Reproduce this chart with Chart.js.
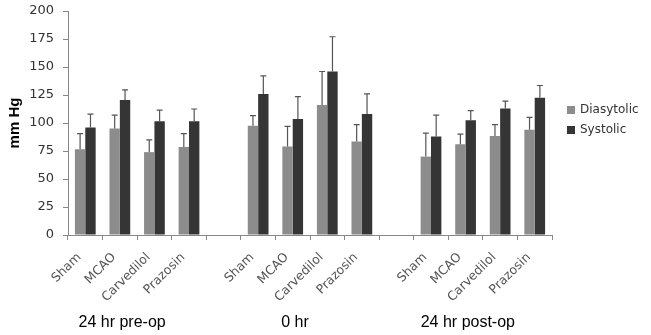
<!DOCTYPE html>
<html>
<head>
<meta charset="utf-8">
<script src="https://cdn.jsdelivr.net/npm/chart.js@4"></script>
<style>
  html, body { margin: 0; padding: 0; background: #ffffff; }
  #wrap { width: 651px; height: 335px; }
</style>
</head>
<body>
<div id="wrap"><canvas id="c" width="651" height="335"></canvas></div>
<script>
const categories = ['Sham','MCAO','Carvedilol','Prazosin','', 'Sham','MCAO','Carvedilol','Prazosin','', 'Sham','MCAO','Carvedilol','Prazosin'];
const groupLabels = ['24 hr pre-op', '0 hr', '24 hr post-op'];
const groupRanges = [[0, 3], [5, 8], [10, 13]];
const seriesNames = ['Diasytolic', 'Systolic'];
const diastolic    = [76.5, 95, 74, 78.5, null, 97.5, 79, 116, 83.5, null, 70, 81, 88.5, 94];
const diastolicErr = [14, 12, 11, 12, null, 9, 18, 30, 15, null, 21, 9, 10, 11];
const systolic     = [96, 120.5, 101.5, 101.5, null, 126, 103.5, 146, 108, null, 88, 102.5, 113, 122.5];
const systolicErr  = [12, 9, 10, 11, null, 16, 20, 31, 18, null, 19, 8.5, 6.5, 11];
const yTicks = [0, 25, 50, 75, 100, 125, 150, 175, 200];

const errors = [diastolicErr, systolicErr];

const errorBarPlugin = {
  id: 'errorBars',
  afterDatasetsDraw(chart) {
    const ctx = chart.ctx;
    const y = chart.scales.y;
    chart.data.datasets.forEach((ds, di) => {
      const meta = chart.getDatasetMeta(di);
      meta.data.forEach((el, i) => {
        const v = ds.data[i], e = errors[di][i];
        if (v == null || e == null) return;
        const x = el.x;
        const y0 = y.getPixelForValue(v);
        const y1 = y.getPixelForValue(v + e);
        ctx.save();
        ctx.strokeStyle = '#555555';
        ctx.lineWidth = 1.2;
        ctx.beginPath();
        ctx.moveTo(x, y0);
        ctx.lineTo(x, y1);
        ctx.moveTo(x - 3, y1);
        ctx.lineTo(x + 3, y1);
        ctx.stroke();
        ctx.restore();
      });
    });
  }
};

const extrasPlugin = {
  id: 'extras',
  afterDraw(chart) {
    const ctx = chart.ctx;
    const xs = chart.scales.x;
    const area = chart.chartArea;
    ctx.save();
    // group labels
    ctx.fillStyle = '#000000';
    ctx.font = '16px "Liberation Sans", Arial, sans-serif';
    ctx.textAlign = 'center';
    ctx.textBaseline = 'middle';
    groupRanges.forEach((r, gi) => {
      const cx = (xs.getPixelForValue(r[0]) + xs.getPixelForValue(r[1])) / 2 - 15;
      ctx.fillText(groupLabels[gi], cx, 323);
    });
    // legend
    const lx = area.right + 15;
    const ly = (area.top + area.bottom) / 2 - 13;
    ctx.font = '12px "DejaVu Sans", Verdana, sans-serif';
    ctx.textAlign = 'left';
    chart.data.datasets.forEach((ds, di) => {
      const yy = ly + di * 20;
      ctx.fillStyle = ds.backgroundColor;
      ctx.fillRect(lx, yy - 4, 8, 8);
      ctx.fillStyle = '#333333';
      ctx.fillText(seriesNames[di], lx + 13, yy);
    });
    ctx.restore();
  }
};

new Chart(document.getElementById('c'), {
  type: 'bar',
  data: {
    labels: categories,
    datasets: [
      { label: seriesNames[0], data: diastolic, backgroundColor: '#8c8c8c', borderWidth: 0 },
      { label: seriesNames[1], data: systolic, backgroundColor: '#353535', borderWidth: 0 }
    ]
  },
  options: {
    responsive: false,
    devicePixelRatio: 1,
    animation: false,
    layout: { padding: { top: 11, right: 99, left: 0, bottom: 0 } },
    plugins: {
      legend: { display: false },
      tooltip: { enabled: false }
    },
    datasets: {
      bar: { categoryPercentage: 0.6, barPercentage: 1.0 }
    },
    scales: {
      x: {
        grid: { display: true, drawOnChartArea: false, drawTicks: true, tickLength: 5, color: '#888888', offset: true },
        border: { display: true, color: '#888888', width: 1 },
        ticks: {
          minRotation: 45, maxRotation: 45, autoSkip: false,
          color: '#555555',
          font: { family: '"DejaVu Sans", Verdana, sans-serif', size: 12.5 },
          padding: 10,
          labelOffset: -6
        },
        afterFit(scale) { scale.height = 100; }
      },
      y: {
        min: 0, max: 200,
        afterBuildTicks(scale) { scale.ticks = yTicks.map(v => ({ value: v })); },
        grid: { display: true, drawOnChartArea: false, drawTicks: true, tickLength: 5, color: '#888888' },
        border: { display: true, color: '#888888', width: 1 },
        ticks: {
          color: '#333333',
          font: { family: '"DejaVu Sans", Verdana, sans-serif', size: 13 },
          padding: 9
        },
        title: {
          display: true, text: 'mm Hg', color: '#000000',
          font: { family: '"Liberation Sans", Arial, sans-serif', size: 15, weight: 'bold' },
          padding: { top: 6, bottom: 0 }
        },
        afterFit(scale) { scale.width = 68; scale.paddingTop = 0; scale.paddingBottom = 0; }
      }
    }
  },
  plugins: [errorBarPlugin, extrasPlugin]
});
</script>
</body>
</html>
